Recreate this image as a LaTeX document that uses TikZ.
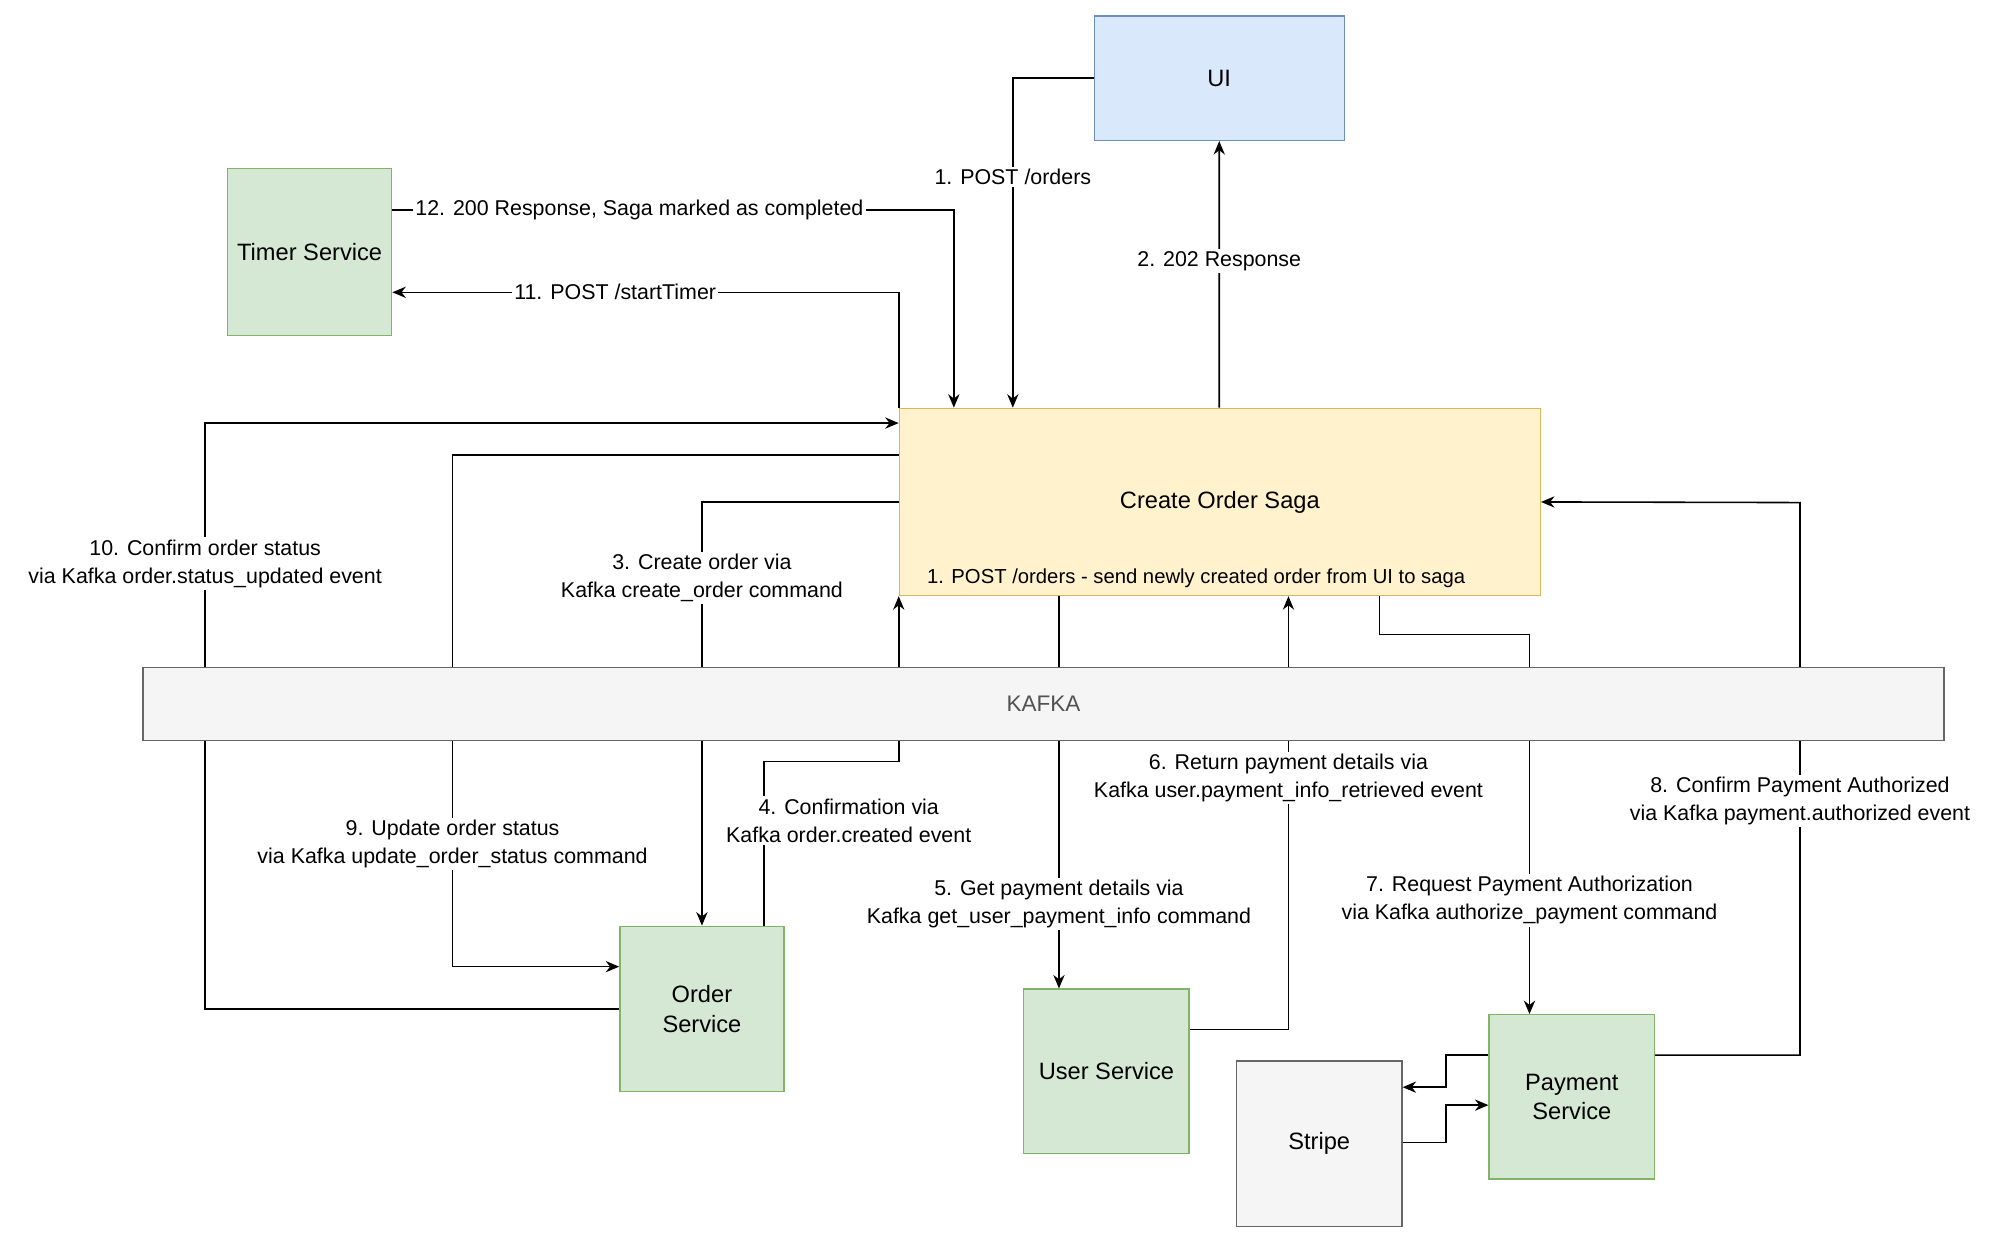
\documentclass[tikz,border=0pt]{standalone}
\usepackage{fontspec}
\setmainfont{Liberation Sans}
\usetikzlibrary{arrows.meta,calc}
\definecolor{uiF}{HTML}{DAE8FC}\definecolor{uiD}{HTML}{6C8EBF}
\definecolor{gF}{HTML}{D5E8D4}\definecolor{gD}{HTML}{82B366}
\definecolor{yF}{HTML}{FFF2CC}\definecolor{yD}{HTML}{D6B656}
\definecolor{kF}{HTML}{F5F5F5}\definecolor{kD}{HTML}{666666}
\begin{document}
\begin{tikzpicture}[x=0.02cm,y=-0.02cm,
 box/.style={draw,anchor=north west,inner sep=0pt,align=center,font=\fontsize{10.5}{13}\selectfont,line width=0.6pt},
 green/.style={box,fill=gF,draw=gD},
 lab/.style={fill=white,inner sep=1pt,align=center,font=\fontsize{9.5}{12.5}\selectfont},
 e/.style={line width=0.7pt,-{Stealth[length=6pt,width=5pt]}},
 ln/.style={line width=0.7pt}]
\useasboundingbox (0,0) rectangle (1560,963);
\node[box,fill=uiF,draw=uiD,minimum width=3.9cm,minimum height=1.94cm] (ui) at (853,12) {UI};
\node[green,minimum width=2.56cm,minimum height=2.6cm] (timer) at (177,131) {Timer Service};
\node[box,fill=yF,draw=yD,minimum width=10cm,minimum height=2.92cm] (saga) at (701,318) {Create Order Saga};
\node[font=\fontsize{9}{11}\selectfont,inner sep=0pt] (sub) at (933,451) {1. POST /orders - send newly created order from UI to saga};
\node[green,minimum width=2.56cm,minimum height=2.58cm] (order) at (483,722) {Order\\Service};
\node[green,minimum width=2.58cm,minimum height=2.56cm] (user) at (798,771) {User Service};
\node[green,minimum width=2.58cm,minimum height=2.56cm] (pay) at (1161,791) {Payment\\Service};
\node[box,fill=kF,draw=kD,minimum width=2.58cm,minimum height=2.58cm] (stripe) at (964,827) {Stripe};
\coordinate (kn) at (111,520);
% edges
\draw[e] (ui.west) -| ($(saga.north west)+(89,0)$) node[lab,pos=0.65] {1. POST /orders};
\draw[e] ($(saga.north west)+(250,0)$) -- (ui.south) node[lab,pos=0.55] {2. 202 Response};
\draw[e] ($(timer.north east)+(0,33)$) -| ($(saga.north west)+(43,0)$) node[lab,pos=0.22] {12. 200 Response, Saga marked as completed};
\draw[e] (saga.north west) |- ($(timer.north east)+(0,97)$) node[lab,pos=0.78] {11. POST /startTimer};
\draw[e] (order.west) -| (160,330) node[lab,pos=0.88] {10. Confirm order status\\via Kafka order.status\_updated event} -- ($(saga.north west)+(0,12)$);
\draw[e] ($(saga.north west)+(0,37)$) -| (353,754) node[lab,pos=0.88] {9. Update order status\\via Kafka update\_order\_status command} -- ($(order.north west)+(0,32)$);
\draw[e] (saga.west) -| (order.north) node[lab,pos=0.59] {3. Create order via\\Kafka create\_order command};
\draw[e] ($(order.north west)+(113,0)$) |- (701,594) -- (saga.south west);
\node[lab] (l4) at (662,640) {4. Confirmation via\\Kafka order.created event};
\draw[e] ($(saga.south west)+(125,0)$) -- ($(user.north west)+(28,0)$) node[lab,pos=0.785] {5. Get payment details via\\Kafka get\_user\_payment\_info command};
\draw[e] ($(user.north east)+(0,32)$) -| ($(saga.south west)+(304,0)$) node[lab,pos=0.79] {6. Return payment details via\\Kafka user.payment\_info\_retrieved event};
\draw[e] ($(saga.south west)+(375,0)$) -- (1076,495) -| ($(pay.north west)+(32,0)$) node[lab,pos=0.85] {7. Request Payment Authorization\\via Kafka authorize\_payment command};
\draw[e] ($(pay.north east)+(0,32)$) -| (1404,392) node[lab,pos=0.73] {8. Confirm Payment Authorized\\via Kafka payment.authorized event} -- (saga.east);
\draw[e] ($(pay.north west)+(0,32)$) -- (1128,823) |- ($(stripe.north east)+(0,21)$);
\draw[e] ($(stripe.north east)+(0,64)$) -- (1128,891) |- ($(pay.north west)+(0,71)$);
\node[box,fill=kF,draw=kD,minimum width=28.1cm,minimum height=1.14cm,font=\fontsize{10}{12}\selectfont,text=kD!80!black] (kafka) at (kn) {KAFKA};
\end{tikzpicture}
\end{document}
